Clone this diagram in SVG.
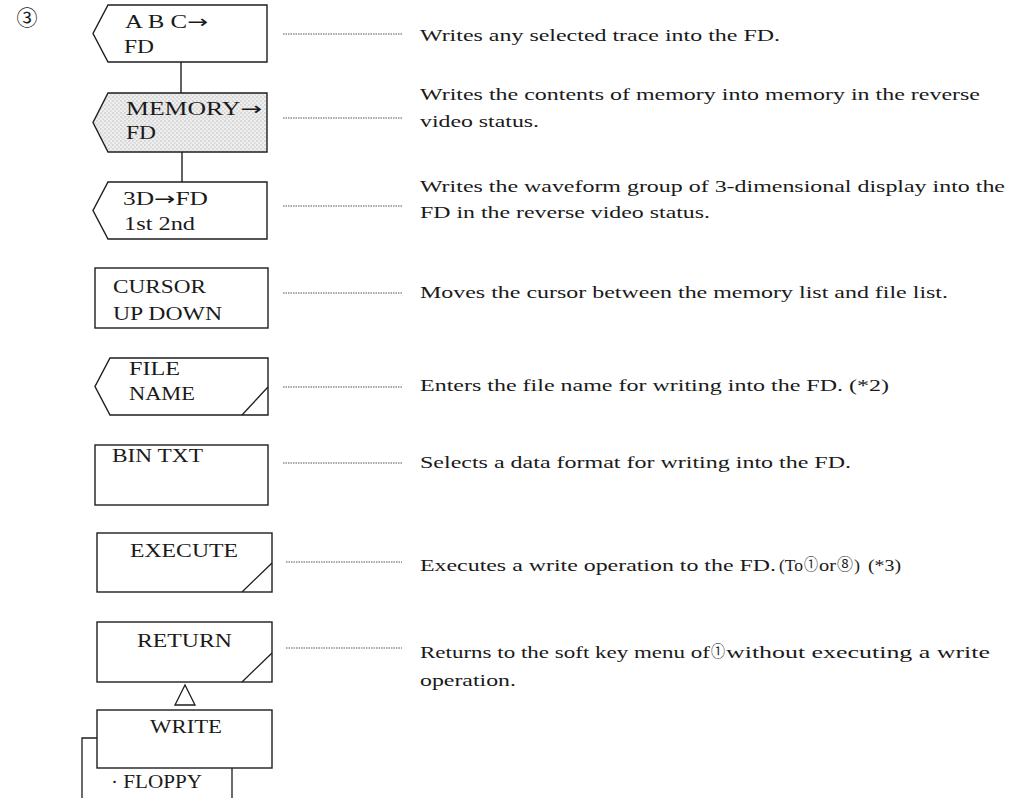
<svg xmlns="http://www.w3.org/2000/svg" width="1023" height="798" viewBox="0 0 1023 798">
  <defs>
    <pattern id="stipple" width="4" height="4" patternUnits="userSpaceOnUse">
      <rect width="4" height="4" fill="#eeeeee"/>
      <rect x="0.5" y="0.5" width="1" height="1" fill="#999999"/>
      <rect x="2.5" y="2.5" width="1" height="1" fill="#b0b0b0"/>
    </pattern>
  </defs>
  <style>
    .box { fill: #ffffff; stroke: #1e1e1e; stroke-width: 1.4; }
    .shaded { fill: url(#stipple); }
    .mark { fill: none; stroke: #1e1e1e; stroke-width: 1.3; }
    .key { font-family: "Liberation Serif", "Times New Roman", serif; font-size: 18px; fill: #1a1a1a; }
    .arrow { font-family: "DejaVu Sans", sans-serif; }
    .desc { font-family: "Liberation Serif", "Noto Sans CJK JP", serif; font-size: 17px; fill: #1a1a1a; }
    .cjk { font-family: "Noto Sans CJK JP", "DejaVu Sans", sans-serif; font-size: 16px; fill: #1a1a1a; }
    .leader { fill: none; stroke: #555555; stroke-width: 1.1; stroke-dasharray: 1.5 1; }
    .link { fill: none; stroke: #1e1e1e; stroke-width: 1.4; }
  </style>
  <rect width="1023" height="798" fill="#ffffff"/>

  <g id="section-number">
    <text x="27" y="25" text-anchor="middle" style="font-family: 'Noto Sans CJK JP', 'DejaVu Sans', sans-serif; font-size: 21px; fill: #1a1a1a;">③</text>
  </g>

  <g id="connectors">
    <line class="link" x1="181" y1="62" x2="181" y2="93"/>
    <line class="link" x1="182" y1="152" x2="182" y2="182"/>
    <polygon class="mark" points="185,685 175,705 195,705" style="fill:#ffffff"/>
    <line class="leader" x1="283" y1="34" x2="402" y2="34"/>
    <line class="leader" x1="283" y1="118" x2="402" y2="118"/>
    <line class="leader" x1="283" y1="206" x2="402" y2="206"/>
    <line class="leader" x1="283" y1="293" x2="402" y2="293"/>
    <line class="leader" x1="283" y1="387" x2="402" y2="387"/>
    <line class="leader" x1="283" y1="463" x2="402" y2="463"/>
    <line class="leader" x1="286" y1="562" x2="402" y2="562"/>
    <line class="leader" x1="286" y1="648" x2="402" y2="648"/>
  </g>

  <g id="key-abc-fd">
    <polygon class="box" points="108,5 267,5 267,62 108,62 93,33.5"/>
    <text class="key" x="125" y="28" textLength="83" lengthAdjust="spacingAndGlyphs">A B C<tspan class="arrow">→</tspan></text>
    <text class="key" x="124" y="53" textLength="30" lengthAdjust="spacingAndGlyphs">FD</text>
  </g>

  <g id="key-memory-fd">
    <polygon class="box shaded" points="108,93 267,93 267,152 108,152 93,122.5"/>
    <text class="key" x="126" y="115" textLength="136" lengthAdjust="spacingAndGlyphs">MEMORY<tspan class="arrow">→</tspan></text>
    <text class="key" x="126" y="139" textLength="30" lengthAdjust="spacingAndGlyphs">FD</text>
  </g>

  <g id="key-3d-fd">
    <polygon class="box" points="108,182 267,182 267,239 108,239 93,210.5"/>
    <text class="key" x="123" y="205" textLength="85" lengthAdjust="spacingAndGlyphs">3D<tspan class="arrow">→</tspan>FD</text>
    <text class="key" x="124" y="230" textLength="71" lengthAdjust="spacingAndGlyphs">1st 2nd</text>
  </g>

  <g id="key-cursor">
    <rect class="box" x="95" y="268" width="173" height="60"/>
    <text class="key" x="113" y="293" textLength="93" lengthAdjust="spacingAndGlyphs">CURSOR</text>
    <text class="key" x="113" y="320" textLength="109" lengthAdjust="spacingAndGlyphs">UP DOWN</text>
  </g>

  <g id="key-file-name">
    <polygon class="box" points="110,358 268,358 268,415 110,415 95,386.5"/>
    <line class="mark" x1="242" y1="415" x2="268" y2="387"/>
    <text class="key" x="129" y="375" textLength="51" lengthAdjust="spacingAndGlyphs">FILE</text>
    <text class="key" x="129" y="400" textLength="66" lengthAdjust="spacingAndGlyphs">NAME</text>
  </g>

  <g id="key-bin-txt">
    <rect class="box" x="95" y="445" width="173" height="60"/>
    <text class="key" x="112" y="462" textLength="91" lengthAdjust="spacingAndGlyphs">BIN TXT</text>
  </g>

  <g id="key-execute">
    <rect class="box" x="97" y="533" width="175" height="59"/>
    <line class="mark" x1="242" y1="592" x2="272" y2="563"/>
    <text class="key" x="130" y="557" textLength="108" lengthAdjust="spacingAndGlyphs">EXECUTE</text>
  </g>

  <g id="key-return">
    <rect class="box" x="97" y="622" width="175" height="60"/>
    <line class="mark" x1="242" y1="682" x2="272" y2="653"/>
    <text class="key" x="137" y="647" textLength="95" lengthAdjust="spacingAndGlyphs">RETURN</text>
  </g>

  <g id="key-floppy">
    <path class="mark" d="M82,798 L82,738 L97,738 M232,768 L232,798"/>
    <text class="key" x="111" y="788" textLength="91" lengthAdjust="spacingAndGlyphs">· FLOPPY</text>
  </g>

  <g id="key-write">
    <rect class="box" x="97" y="710" width="175" height="58"/>
    <text class="key" x="150" y="733" textLength="72" lengthAdjust="spacingAndGlyphs">WRITE</text>
  </g>

  <g id="descriptions">
    <text class="desc" x="420" y="41" textLength="360" lengthAdjust="spacingAndGlyphs">Writes any selected trace into the FD.</text>
    <text class="desc" x="420" y="100" textLength="560" lengthAdjust="spacingAndGlyphs">Writes the contents of memory into memory in the reverse</text>
    <text class="desc" x="420" y="127" textLength="119" lengthAdjust="spacingAndGlyphs">video status.</text>
    <text class="desc" x="420" y="192" textLength="585" lengthAdjust="spacingAndGlyphs">Writes the waveform group of 3-dimensional display into the</text>
    <text class="desc" x="420" y="218" textLength="290" lengthAdjust="spacingAndGlyphs">FD in the reverse video status.</text>
    <text class="desc" x="420" y="298" textLength="528" lengthAdjust="spacingAndGlyphs">Moves the cursor between the memory list and file list.</text>
    <text class="desc" x="420" y="391" textLength="469" lengthAdjust="spacingAndGlyphs">Enters the file name for writing into the FD. (*2)</text>
    <text class="desc" x="420" y="468" textLength="431" lengthAdjust="spacingAndGlyphs">Selects a data format for writing into the FD.</text>
    <text class="desc" x="420" y="571" textLength="356" lengthAdjust="spacingAndGlyphs">Executes a write operation to the FD.</text>
    <text class="desc" x="779" y="571" textLength="24" lengthAdjust="spacingAndGlyphs">(To</text>
    <text class="cjk" x="804" y="570" textLength="14" lengthAdjust="spacingAndGlyphs">①</text>
    <text class="desc" x="819" y="571" textLength="17" lengthAdjust="spacingAndGlyphs">or</text>
    <text class="cjk" x="837" y="570" textLength="16" lengthAdjust="spacingAndGlyphs">⑧</text>
    <text class="desc" x="854" y="571" textLength="6" lengthAdjust="spacingAndGlyphs">)</text>
    <text class="desc" x="868" y="571" textLength="33" lengthAdjust="spacingAndGlyphs">(*3)</text>
    <text class="desc" x="420" y="658" textLength="290" lengthAdjust="spacingAndGlyphs">Returns to the soft key menu of</text>
    <text class="cjk" x="711" y="657" textLength="14" lengthAdjust="spacingAndGlyphs">①</text>
    <text class="desc" x="726" y="658" textLength="264" lengthAdjust="spacingAndGlyphs">without executing a write</text>
    <text class="desc" x="420" y="686" textLength="96" lengthAdjust="spacingAndGlyphs">operation.</text>
  </g>
</svg>
